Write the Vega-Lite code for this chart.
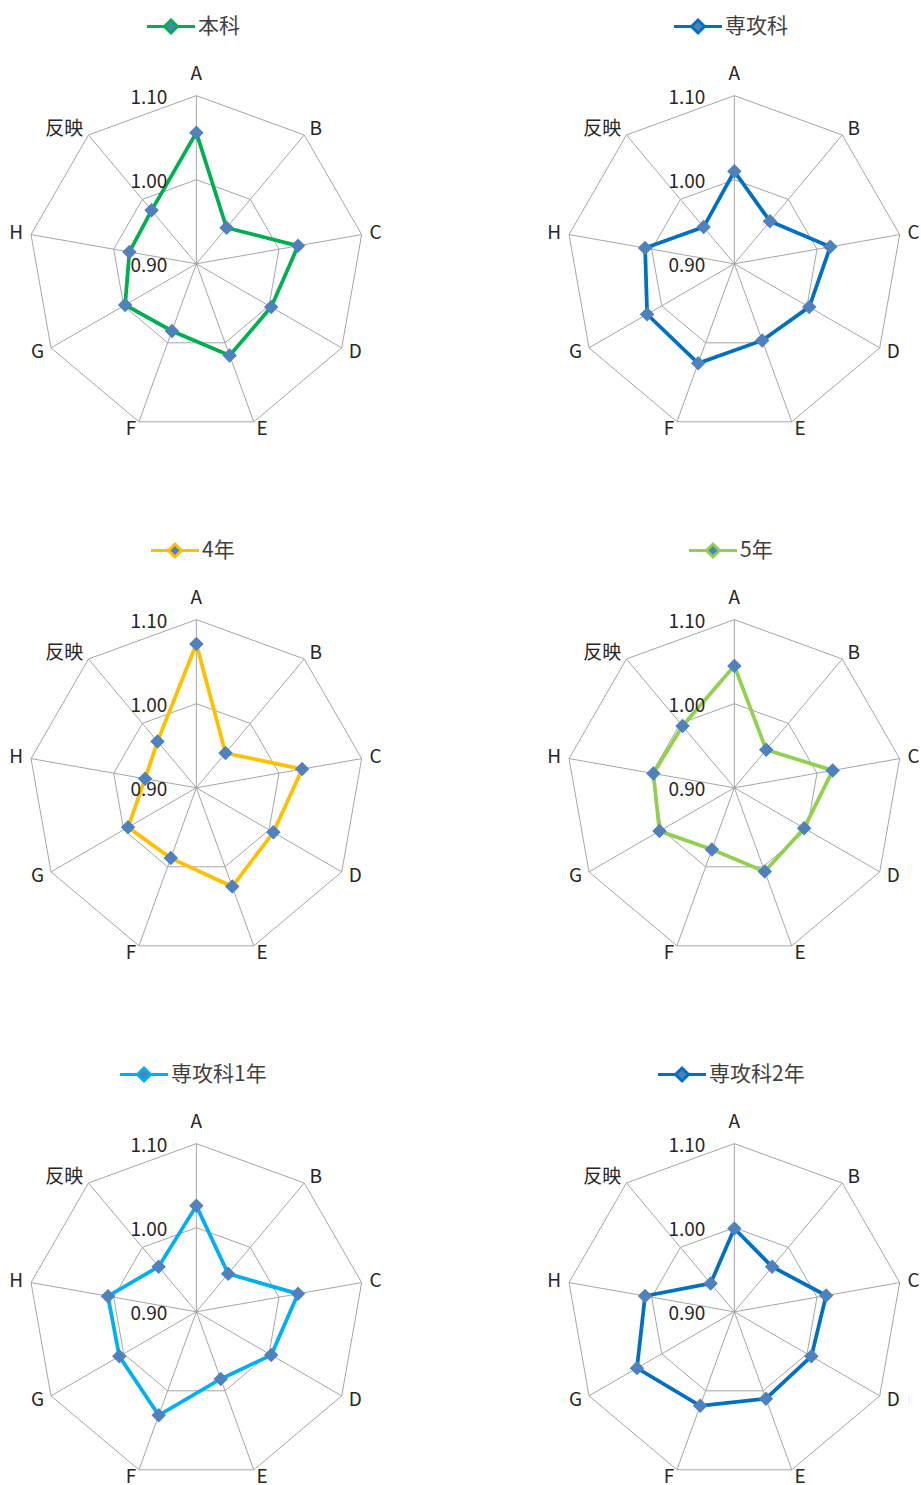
{
  "$schema": "https://vega.github.io/schema/vega-lite/v6.json",
  "padding": {"left": 5, "top": 15, "right": 0, "bottom": 0},
  "background": "white",
  "datasets": {
    "scores": [
      {"panel": "本科", "item": "A", "idx": 0, "value": 1.056},
      {"panel": "本科", "item": "B", "idx": 1, "value": 0.956},
      {"panel": "本科", "item": "C", "idx": 2, "value": 1.023},
      {"panel": "本科", "item": "D", "idx": 3, "value": 1.003},
      {"panel": "本科", "item": "E", "idx": 4, "value": 1.016},
      {"panel": "本科", "item": "F", "idx": 5, "value": 0.985},
      {"panel": "本科", "item": "G", "idx": 6, "value": 0.998},
      {"panel": "本科", "item": "H", "idx": 7, "value": 0.981},
      {"panel": "本科", "item": "反映", "idx": 8, "value": 0.983},
      {"panel": "専攻科", "item": "A", "idx": 0, "value": 1.010},
      {"panel": "専攻科", "item": "B", "idx": 1, "value": 0.966},
      {"panel": "専攻科", "item": "C", "idx": 2, "value": 1.016},
      {"panel": "専攻科", "item": "D", "idx": 3, "value": 1.003},
      {"panel": "専攻科", "item": "E", "idx": 4, "value": 0.997},
      {"panel": "専攻科", "item": "F", "idx": 5, "value": 1.026},
      {"panel": "専攻科", "item": "G", "idx": 6, "value": 1.020},
      {"panel": "専攻科", "item": "H", "idx": 7, "value": 1.008},
      {"panel": "専攻科", "item": "反映", "idx": 8, "value": 0.957},
      {"panel": "4年", "item": "A", "idx": 0, "value": 1.071},
      {"panel": "4年", "item": "B", "idx": 1, "value": 0.954},
      {"panel": "4年", "item": "C", "idx": 2, "value": 1.028},
      {"panel": "4年", "item": "D", "idx": 3, "value": 1.006},
      {"panel": "4年", "item": "E", "idx": 4, "value": 1.025},
      {"panel": "4年", "item": "F", "idx": 5, "value": 0.989},
      {"panel": "4年", "item": "G", "idx": 6, "value": 0.994},
      {"panel": "4年", "item": "H", "idx": 7, "value": 0.962},
      {"panel": "4年", "item": "反映", "idx": 8, "value": 0.972},
      {"panel": "5年", "item": "A", "idx": 0, "value": 1.045},
      {"panel": "5年", "item": "B", "idx": 1, "value": 0.959},
      {"panel": "5年", "item": "C", "idx": 2, "value": 1.019},
      {"panel": "5年", "item": "D", "idx": 3, "value": 0.996},
      {"panel": "5年", "item": "E", "idx": 4, "value": 1.006},
      {"panel": "5年", "item": "F", "idx": 5, "value": 0.978},
      {"panel": "5年", "item": "G", "idx": 6, "value": 1.003},
      {"panel": "5年", "item": "H", "idx": 7, "value": 0.998},
      {"panel": "5年", "item": "反映", "idx": 8, "value": 0.996},
      {"panel": "専攻科1年", "item": "A", "idx": 0, "value": 1.026},
      {"panel": "専攻科1年", "item": "B", "idx": 1, "value": 0.959},
      {"panel": "専攻科1年", "item": "C", "idx": 2, "value": 1.023},
      {"panel": "専攻科1年", "item": "D", "idx": 3, "value": 1.003},
      {"panel": "専攻科1年", "item": "E", "idx": 4, "value": 0.985},
      {"panel": "専攻科1年", "item": "F", "idx": 5, "value": 1.031},
      {"panel": "専攻科1年", "item": "G", "idx": 6, "value": 1.006},
      {"panel": "専攻科1年", "item": "H", "idx": 7, "value": 1.007},
      {"panel": "専攻科1年", "item": "反映", "idx": 8, "value": 0.970},
      {"panel": "専攻科2年", "item": "A", "idx": 0, "value": 0.999},
      {"panel": "専攻科2年", "item": "B", "idx": 1, "value": 0.970},
      {"panel": "専攻科2年", "item": "C", "idx": 2, "value": 1.011},
      {"panel": "専攻科2年", "item": "D", "idx": 3, "value": 1.006},
      {"panel": "専攻科2年", "item": "E", "idx": 4, "value": 1.010},
      {"panel": "専攻科2年", "item": "F", "idx": 5, "value": 1.019},
      {"panel": "専攻科2年", "item": "G", "idx": 6, "value": 1.034},
      {"panel": "専攻科2年", "item": "H", "idx": 7, "value": 1.008},
      {"panel": "専攻科2年", "item": "反映", "idx": 8, "value": 0.944}
    ],
    "items": [
      {"item": "A", "idx": 0}, {"item": "B", "idx": 1}, {"item": "C", "idx": 2},
      {"item": "D", "idx": 3}, {"item": "E", "idx": 4}, {"item": "F", "idx": 5},
      {"item": "G", "idx": 6}, {"item": "H", "idx": 7}, {"item": "反映", "idx": 8}
    ],
    "rings": [
      {"level": 1.0, "idx": 0}, {"level": 1.0, "idx": 1}, {"level": 1.0, "idx": 2},
      {"level": 1.0, "idx": 3}, {"level": 1.0, "idx": 4}, {"level": 1.0, "idx": 5},
      {"level": 1.0, "idx": 6}, {"level": 1.0, "idx": 7}, {"level": 1.0, "idx": 8},
      {"level": 1.1, "idx": 0}, {"level": 1.1, "idx": 1}, {"level": 1.1, "idx": 2},
      {"level": 1.1, "idx": 3}, {"level": 1.1, "idx": 4}, {"level": 1.1, "idx": 5},
      {"level": 1.1, "idx": 6}, {"level": 1.1, "idx": 7}, {"level": 1.1, "idx": 8}
    ],
    "ringLabels": [
      {"level": 1.1, "label": "1.10"},
      {"level": 1.0, "label": "1.00"},
      {"level": 0.9, "label": "0.90"}
    ]
  },
  "columns": 2,
  "spacing": {"row": 99, "column": 161},
  "resolve": {"scale": {"stroke": "independent"}, "legend": {"stroke": "independent"}},
  "concat": [
    {
      "width": 376, "height": 375,
      "layer": [
        {"data": {"name": "rings"},
         "transform": [{"calculate": "2*PI*datum.idx/9", "as": "t"}, {"calculate": "(datum.level-0.9)/0.2", "as": "r"}, {"calculate": "datum.r*sin(datum.t)", "as": "x"}, {"calculate": "datum.r*cos(datum.t)", "as": "y"}],
         "mark": {"type": "line", "interpolate": "linear-closed", "color": "#A6A6A6", "strokeWidth": 1},
         "encoding": {"x": {"field": "x", "type": "quantitative", "scale": {"domain": [-1.14, 1.1], "nice": false, "zero": false}, "axis": null}, "y": {"field": "y", "type": "quantitative", "scale": {"domain": [-1.03, 1.2], "nice": false, "zero": false}, "axis": null}, "detail": {"field": "level", "type": "nominal"}, "order": {"field": "idx", "type": "quantitative"}}},
        {"data": {"name": "items"},
         "transform": [{"calculate": "2*PI*datum.idx/9", "as": "t"}, {"calculate": "sin(datum.t)", "as": "x"}, {"calculate": "cos(datum.t)", "as": "y"}, {"calculate": "0", "as": "z"}],
         "mark": {"type": "rule", "color": "#A6A6A6", "strokeWidth": 1},
         "encoding": {"x": {"field": "x", "type": "quantitative"}, "y": {"field": "y", "type": "quantitative"}, "x2": {"field": "z"}, "y2": {"field": "z"}}},
        {"data": {"name": "scores"},
         "transform": [{"filter": "datum.panel === '本科'"}, {"calculate": "2*PI*datum.idx/9", "as": "t"}, {"calculate": "(datum.value-0.9)/0.2", "as": "r"}, {"calculate": "datum.r*sin(datum.t)", "as": "x"}, {"calculate": "datum.r*cos(datum.t)", "as": "y"}],
         "layer": [
           {"mark": {"type": "line", "interpolate": "linear-closed", "strokeWidth": 3.75},
            "encoding": {"x": {"field": "x", "type": "quantitative"}, "y": {"field": "y", "type": "quantitative"}, "order": {"field": "idx", "type": "quantitative"},
              "stroke": {"field": "panel", "type": "nominal", "scale": {"domain": ["本科"], "range": ["#00B050"]},
                "legend": {"title": null, "orient": "top", "offset": 23, "symbolType": "M-1.15,0L0.6,0M1.9,0L3.65,0M1.25,-0.65L1.9,0L1.25,0.65L0.6,0Z", "symbolSize": 400, "symbolStrokeWidth": 3, "symbolFillColor": "#4F81BD", "symbolOpacity": 1, "labelFont": "Noto Sans CJK JP", "labelFontSize": 21, "labelColor": "#404040", "labelOffset": 28, "encode": {"symbols": {"update": {"fill": {"value": "#4F81BD"}, "strokeWidth": {"value": 3}}}}}}}},
           {"mark": {"type": "point", "shape": "diamond", "filled": true, "size": 210, "color": "#4F81BD", "opacity": 1},
            "encoding": {"x": {"field": "x", "type": "quantitative"}, "y": {"field": "y", "type": "quantitative"}}}
         ]},
        {"data": {"name": "items"},
         "transform": [{"calculate": "2*PI*datum.idx/9", "as": "t"}, {"calculate": "datum.idx == 0 ? 1.131 : 1.048", "as": "rl"}, {"calculate": "datum.rl*sin(datum.t)", "as": "x"}, {"calculate": "datum.rl*cos(datum.t)", "as": "y"}],
         "layer": [
           {"transform": [{"filter": "datum.idx == 0"}], "mark": {"type": "text", "align": "center", "baseline": "middle", "font": "Noto Sans CJK JP", "fontSize": 19, "color": "#262626"}, "encoding": {"x": {"field": "x", "type": "quantitative"}, "y": {"field": "y", "type": "quantitative"}, "text": {"field": "item"}}},
           {"transform": [{"filter": "datum.idx >= 1 && datum.idx <= 4"}], "mark": {"type": "text", "align": "left", "baseline": "middle", "font": "Noto Sans CJK JP", "fontSize": 19, "color": "#262626"}, "encoding": {"x": {"field": "x", "type": "quantitative"}, "y": {"field": "y", "type": "quantitative"}, "text": {"field": "item"}}},
           {"transform": [{"filter": "datum.idx >= 5"}], "mark": {"type": "text", "align": "right", "baseline": "middle", "font": "Noto Sans CJK JP", "fontSize": 19, "color": "#262626"}, "encoding": {"x": {"field": "x", "type": "quantitative"}, "y": {"field": "y", "type": "quantitative"}, "text": {"field": "item"}}}
         ]},
        {"data": {"name": "ringLabels"},
         "transform": [{"calculate": "(datum.level-0.9)/0.2", "as": "y"}, {"calculate": "0", "as": "x"}],
         "mark": {"type": "text", "align": "right", "baseline": "middle", "dx": -29, "dy": 2, "font": "Noto Sans CJK JP", "fontSize": 19, "color": "#262626"},
         "encoding": {"x": {"field": "x", "type": "quantitative"}, "y": {"field": "y", "type": "quantitative"}, "text": {"field": "label"}}}
      ]
    },
    {
      "width": 376, "height": 375,
      "layer": [
        {"data": {"name": "rings"},
         "transform": [{"calculate": "2*PI*datum.idx/9", "as": "t"}, {"calculate": "(datum.level-0.9)/0.2", "as": "r"}, {"calculate": "datum.r*sin(datum.t)", "as": "x"}, {"calculate": "datum.r*cos(datum.t)", "as": "y"}],
         "mark": {"type": "line", "interpolate": "linear-closed", "color": "#A6A6A6", "strokeWidth": 1},
         "encoding": {"x": {"field": "x", "type": "quantitative", "scale": {"domain": [-1.14, 1.1], "nice": false, "zero": false}, "axis": null}, "y": {"field": "y", "type": "quantitative", "scale": {"domain": [-1.03, 1.2], "nice": false, "zero": false}, "axis": null}, "detail": {"field": "level", "type": "nominal"}, "order": {"field": "idx", "type": "quantitative"}}},
        {"data": {"name": "items"},
         "transform": [{"calculate": "2*PI*datum.idx/9", "as": "t"}, {"calculate": "sin(datum.t)", "as": "x"}, {"calculate": "cos(datum.t)", "as": "y"}, {"calculate": "0", "as": "z"}],
         "mark": {"type": "rule", "color": "#A6A6A6", "strokeWidth": 1},
         "encoding": {"x": {"field": "x", "type": "quantitative"}, "y": {"field": "y", "type": "quantitative"}, "x2": {"field": "z"}, "y2": {"field": "z"}}},
        {"data": {"name": "scores"},
         "transform": [{"filter": "datum.panel === '専攻科'"}, {"calculate": "2*PI*datum.idx/9", "as": "t"}, {"calculate": "(datum.value-0.9)/0.2", "as": "r"}, {"calculate": "datum.r*sin(datum.t)", "as": "x"}, {"calculate": "datum.r*cos(datum.t)", "as": "y"}],
         "layer": [
           {"mark": {"type": "line", "interpolate": "linear-closed", "strokeWidth": 3.75},
            "encoding": {"x": {"field": "x", "type": "quantitative"}, "y": {"field": "y", "type": "quantitative"}, "order": {"field": "idx", "type": "quantitative"},
              "stroke": {"field": "panel", "type": "nominal", "scale": {"domain": ["専攻科"], "range": ["#0070C0"]},
                "legend": {"title": null, "orient": "top", "offset": 23, "symbolType": "M-1.15,0L0.6,0M1.9,0L3.65,0M1.25,-0.65L1.9,0L1.25,0.65L0.6,0Z", "symbolSize": 400, "symbolStrokeWidth": 3, "symbolFillColor": "#4F81BD", "symbolOpacity": 1, "labelFont": "Noto Sans CJK JP", "labelFontSize": 21, "labelColor": "#404040", "labelOffset": 28, "encode": {"symbols": {"update": {"fill": {"value": "#4F81BD"}, "strokeWidth": {"value": 3}}}}}}}},
           {"mark": {"type": "point", "shape": "diamond", "filled": true, "size": 210, "color": "#4F81BD", "opacity": 1},
            "encoding": {"x": {"field": "x", "type": "quantitative"}, "y": {"field": "y", "type": "quantitative"}}}
         ]},
        {"data": {"name": "items"},
         "transform": [{"calculate": "2*PI*datum.idx/9", "as": "t"}, {"calculate": "datum.idx == 0 ? 1.131 : 1.048", "as": "rl"}, {"calculate": "datum.rl*sin(datum.t)", "as": "x"}, {"calculate": "datum.rl*cos(datum.t)", "as": "y"}],
         "layer": [
           {"transform": [{"filter": "datum.idx == 0"}], "mark": {"type": "text", "align": "center", "baseline": "middle", "font": "Noto Sans CJK JP", "fontSize": 19, "color": "#262626"}, "encoding": {"x": {"field": "x", "type": "quantitative"}, "y": {"field": "y", "type": "quantitative"}, "text": {"field": "item"}}},
           {"transform": [{"filter": "datum.idx >= 1 && datum.idx <= 4"}], "mark": {"type": "text", "align": "left", "baseline": "middle", "font": "Noto Sans CJK JP", "fontSize": 19, "color": "#262626"}, "encoding": {"x": {"field": "x", "type": "quantitative"}, "y": {"field": "y", "type": "quantitative"}, "text": {"field": "item"}}},
           {"transform": [{"filter": "datum.idx >= 5"}], "mark": {"type": "text", "align": "right", "baseline": "middle", "font": "Noto Sans CJK JP", "fontSize": 19, "color": "#262626"}, "encoding": {"x": {"field": "x", "type": "quantitative"}, "y": {"field": "y", "type": "quantitative"}, "text": {"field": "item"}}}
         ]},
        {"data": {"name": "ringLabels"},
         "transform": [{"calculate": "(datum.level-0.9)/0.2", "as": "y"}, {"calculate": "0", "as": "x"}],
         "mark": {"type": "text", "align": "right", "baseline": "middle", "dx": -29, "dy": 2, "font": "Noto Sans CJK JP", "fontSize": 19, "color": "#262626"},
         "encoding": {"x": {"field": "x", "type": "quantitative"}, "y": {"field": "y", "type": "quantitative"}, "text": {"field": "label"}}}
      ]
    },
    {
      "width": 376, "height": 375,
      "layer": [
        {"data": {"name": "rings"},
         "transform": [{"calculate": "2*PI*datum.idx/9", "as": "t"}, {"calculate": "(datum.level-0.9)/0.2", "as": "r"}, {"calculate": "datum.r*sin(datum.t)", "as": "x"}, {"calculate": "datum.r*cos(datum.t)", "as": "y"}],
         "mark": {"type": "line", "interpolate": "linear-closed", "color": "#A6A6A6", "strokeWidth": 1},
         "encoding": {"x": {"field": "x", "type": "quantitative", "scale": {"domain": [-1.14, 1.1], "nice": false, "zero": false}, "axis": null}, "y": {"field": "y", "type": "quantitative", "scale": {"domain": [-1.03, 1.2], "nice": false, "zero": false}, "axis": null}, "detail": {"field": "level", "type": "nominal"}, "order": {"field": "idx", "type": "quantitative"}}},
        {"data": {"name": "items"},
         "transform": [{"calculate": "2*PI*datum.idx/9", "as": "t"}, {"calculate": "sin(datum.t)", "as": "x"}, {"calculate": "cos(datum.t)", "as": "y"}, {"calculate": "0", "as": "z"}],
         "mark": {"type": "rule", "color": "#A6A6A6", "strokeWidth": 1},
         "encoding": {"x": {"field": "x", "type": "quantitative"}, "y": {"field": "y", "type": "quantitative"}, "x2": {"field": "z"}, "y2": {"field": "z"}}},
        {"data": {"name": "scores"},
         "transform": [{"filter": "datum.panel === '4年'"}, {"calculate": "2*PI*datum.idx/9", "as": "t"}, {"calculate": "(datum.value-0.9)/0.2", "as": "r"}, {"calculate": "datum.r*sin(datum.t)", "as": "x"}, {"calculate": "datum.r*cos(datum.t)", "as": "y"}],
         "layer": [
           {"mark": {"type": "line", "interpolate": "linear-closed", "strokeWidth": 3.75},
            "encoding": {"x": {"field": "x", "type": "quantitative"}, "y": {"field": "y", "type": "quantitative"}, "order": {"field": "idx", "type": "quantitative"},
              "stroke": {"field": "panel", "type": "nominal", "scale": {"domain": ["4年"], "range": ["#FFC000"]},
                "legend": {"title": null, "orient": "top", "offset": 23, "symbolType": "M-1.15,0L0.6,0M1.9,0L3.65,0M1.25,-0.65L1.9,0L1.25,0.65L0.6,0Z", "symbolSize": 400, "symbolStrokeWidth": 3, "symbolFillColor": "#4F81BD", "symbolOpacity": 1, "labelFont": "Noto Sans CJK JP", "labelFontSize": 21, "labelColor": "#404040", "labelOffset": 28, "encode": {"symbols": {"update": {"fill": {"value": "#4F81BD"}, "strokeWidth": {"value": 3}}}}}}}},
           {"mark": {"type": "point", "shape": "diamond", "filled": true, "size": 210, "color": "#4F81BD", "opacity": 1},
            "encoding": {"x": {"field": "x", "type": "quantitative"}, "y": {"field": "y", "type": "quantitative"}}}
         ]},
        {"data": {"name": "items"},
         "transform": [{"calculate": "2*PI*datum.idx/9", "as": "t"}, {"calculate": "datum.idx == 0 ? 1.131 : 1.048", "as": "rl"}, {"calculate": "datum.rl*sin(datum.t)", "as": "x"}, {"calculate": "datum.rl*cos(datum.t)", "as": "y"}],
         "layer": [
           {"transform": [{"filter": "datum.idx == 0"}], "mark": {"type": "text", "align": "center", "baseline": "middle", "font": "Noto Sans CJK JP", "fontSize": 19, "color": "#262626"}, "encoding": {"x": {"field": "x", "type": "quantitative"}, "y": {"field": "y", "type": "quantitative"}, "text": {"field": "item"}}},
           {"transform": [{"filter": "datum.idx >= 1 && datum.idx <= 4"}], "mark": {"type": "text", "align": "left", "baseline": "middle", "font": "Noto Sans CJK JP", "fontSize": 19, "color": "#262626"}, "encoding": {"x": {"field": "x", "type": "quantitative"}, "y": {"field": "y", "type": "quantitative"}, "text": {"field": "item"}}},
           {"transform": [{"filter": "datum.idx >= 5"}], "mark": {"type": "text", "align": "right", "baseline": "middle", "font": "Noto Sans CJK JP", "fontSize": 19, "color": "#262626"}, "encoding": {"x": {"field": "x", "type": "quantitative"}, "y": {"field": "y", "type": "quantitative"}, "text": {"field": "item"}}}
         ]},
        {"data": {"name": "ringLabels"},
         "transform": [{"calculate": "(datum.level-0.9)/0.2", "as": "y"}, {"calculate": "0", "as": "x"}],
         "mark": {"type": "text", "align": "right", "baseline": "middle", "dx": -29, "dy": 2, "font": "Noto Sans CJK JP", "fontSize": 19, "color": "#262626"},
         "encoding": {"x": {"field": "x", "type": "quantitative"}, "y": {"field": "y", "type": "quantitative"}, "text": {"field": "label"}}}
      ]
    },
    {
      "width": 376, "height": 375,
      "layer": [
        {"data": {"name": "rings"},
         "transform": [{"calculate": "2*PI*datum.idx/9", "as": "t"}, {"calculate": "(datum.level-0.9)/0.2", "as": "r"}, {"calculate": "datum.r*sin(datum.t)", "as": "x"}, {"calculate": "datum.r*cos(datum.t)", "as": "y"}],
         "mark": {"type": "line", "interpolate": "linear-closed", "color": "#A6A6A6", "strokeWidth": 1},
         "encoding": {"x": {"field": "x", "type": "quantitative", "scale": {"domain": [-1.14, 1.1], "nice": false, "zero": false}, "axis": null}, "y": {"field": "y", "type": "quantitative", "scale": {"domain": [-1.03, 1.2], "nice": false, "zero": false}, "axis": null}, "detail": {"field": "level", "type": "nominal"}, "order": {"field": "idx", "type": "quantitative"}}},
        {"data": {"name": "items"},
         "transform": [{"calculate": "2*PI*datum.idx/9", "as": "t"}, {"calculate": "sin(datum.t)", "as": "x"}, {"calculate": "cos(datum.t)", "as": "y"}, {"calculate": "0", "as": "z"}],
         "mark": {"type": "rule", "color": "#A6A6A6", "strokeWidth": 1},
         "encoding": {"x": {"field": "x", "type": "quantitative"}, "y": {"field": "y", "type": "quantitative"}, "x2": {"field": "z"}, "y2": {"field": "z"}}},
        {"data": {"name": "scores"},
         "transform": [{"filter": "datum.panel === '5年'"}, {"calculate": "2*PI*datum.idx/9", "as": "t"}, {"calculate": "(datum.value-0.9)/0.2", "as": "r"}, {"calculate": "datum.r*sin(datum.t)", "as": "x"}, {"calculate": "datum.r*cos(datum.t)", "as": "y"}],
         "layer": [
           {"mark": {"type": "line", "interpolate": "linear-closed", "strokeWidth": 3.75},
            "encoding": {"x": {"field": "x", "type": "quantitative"}, "y": {"field": "y", "type": "quantitative"}, "order": {"field": "idx", "type": "quantitative"},
              "stroke": {"field": "panel", "type": "nominal", "scale": {"domain": ["5年"], "range": ["#92D050"]},
                "legend": {"title": null, "orient": "top", "offset": 23, "symbolType": "M-1.15,0L0.6,0M1.9,0L3.65,0M1.25,-0.65L1.9,0L1.25,0.65L0.6,0Z", "symbolSize": 400, "symbolStrokeWidth": 3, "symbolFillColor": "#4F81BD", "symbolOpacity": 1, "labelFont": "Noto Sans CJK JP", "labelFontSize": 21, "labelColor": "#404040", "labelOffset": 28, "encode": {"symbols": {"update": {"fill": {"value": "#4F81BD"}, "strokeWidth": {"value": 3}}}}}}}},
           {"mark": {"type": "point", "shape": "diamond", "filled": true, "size": 210, "color": "#4F81BD", "opacity": 1},
            "encoding": {"x": {"field": "x", "type": "quantitative"}, "y": {"field": "y", "type": "quantitative"}}}
         ]},
        {"data": {"name": "items"},
         "transform": [{"calculate": "2*PI*datum.idx/9", "as": "t"}, {"calculate": "datum.idx == 0 ? 1.131 : 1.048", "as": "rl"}, {"calculate": "datum.rl*sin(datum.t)", "as": "x"}, {"calculate": "datum.rl*cos(datum.t)", "as": "y"}],
         "layer": [
           {"transform": [{"filter": "datum.idx == 0"}], "mark": {"type": "text", "align": "center", "baseline": "middle", "font": "Noto Sans CJK JP", "fontSize": 19, "color": "#262626"}, "encoding": {"x": {"field": "x", "type": "quantitative"}, "y": {"field": "y", "type": "quantitative"}, "text": {"field": "item"}}},
           {"transform": [{"filter": "datum.idx >= 1 && datum.idx <= 4"}], "mark": {"type": "text", "align": "left", "baseline": "middle", "font": "Noto Sans CJK JP", "fontSize": 19, "color": "#262626"}, "encoding": {"x": {"field": "x", "type": "quantitative"}, "y": {"field": "y", "type": "quantitative"}, "text": {"field": "item"}}},
           {"transform": [{"filter": "datum.idx >= 5"}], "mark": {"type": "text", "align": "right", "baseline": "middle", "font": "Noto Sans CJK JP", "fontSize": 19, "color": "#262626"}, "encoding": {"x": {"field": "x", "type": "quantitative"}, "y": {"field": "y", "type": "quantitative"}, "text": {"field": "item"}}}
         ]},
        {"data": {"name": "ringLabels"},
         "transform": [{"calculate": "(datum.level-0.9)/0.2", "as": "y"}, {"calculate": "0", "as": "x"}],
         "mark": {"type": "text", "align": "right", "baseline": "middle", "dx": -29, "dy": 2, "font": "Noto Sans CJK JP", "fontSize": 19, "color": "#262626"},
         "encoding": {"x": {"field": "x", "type": "quantitative"}, "y": {"field": "y", "type": "quantitative"}, "text": {"field": "label"}}}
      ]
    },
    {
      "width": 376, "height": 375,
      "layer": [
        {"data": {"name": "rings"},
         "transform": [{"calculate": "2*PI*datum.idx/9", "as": "t"}, {"calculate": "(datum.level-0.9)/0.2", "as": "r"}, {"calculate": "datum.r*sin(datum.t)", "as": "x"}, {"calculate": "datum.r*cos(datum.t)", "as": "y"}],
         "mark": {"type": "line", "interpolate": "linear-closed", "color": "#A6A6A6", "strokeWidth": 1},
         "encoding": {"x": {"field": "x", "type": "quantitative", "scale": {"domain": [-1.14, 1.1], "nice": false, "zero": false}, "axis": null}, "y": {"field": "y", "type": "quantitative", "scale": {"domain": [-1.03, 1.2], "nice": false, "zero": false}, "axis": null}, "detail": {"field": "level", "type": "nominal"}, "order": {"field": "idx", "type": "quantitative"}}},
        {"data": {"name": "items"},
         "transform": [{"calculate": "2*PI*datum.idx/9", "as": "t"}, {"calculate": "sin(datum.t)", "as": "x"}, {"calculate": "cos(datum.t)", "as": "y"}, {"calculate": "0", "as": "z"}],
         "mark": {"type": "rule", "color": "#A6A6A6", "strokeWidth": 1},
         "encoding": {"x": {"field": "x", "type": "quantitative"}, "y": {"field": "y", "type": "quantitative"}, "x2": {"field": "z"}, "y2": {"field": "z"}}},
        {"data": {"name": "scores"},
         "transform": [{"filter": "datum.panel === '専攻科1年'"}, {"calculate": "2*PI*datum.idx/9", "as": "t"}, {"calculate": "(datum.value-0.9)/0.2", "as": "r"}, {"calculate": "datum.r*sin(datum.t)", "as": "x"}, {"calculate": "datum.r*cos(datum.t)", "as": "y"}],
         "layer": [
           {"mark": {"type": "line", "interpolate": "linear-closed", "strokeWidth": 3.75},
            "encoding": {"x": {"field": "x", "type": "quantitative"}, "y": {"field": "y", "type": "quantitative"}, "order": {"field": "idx", "type": "quantitative"},
              "stroke": {"field": "panel", "type": "nominal", "scale": {"domain": ["専攻科1年"], "range": ["#00B0F0"]},
                "legend": {"title": null, "orient": "top", "offset": 23, "symbolType": "M-1.15,0L0.6,0M1.9,0L3.65,0M1.25,-0.65L1.9,0L1.25,0.65L0.6,0Z", "symbolSize": 400, "symbolStrokeWidth": 3, "symbolFillColor": "#4F81BD", "symbolOpacity": 1, "labelFont": "Noto Sans CJK JP", "labelFontSize": 21, "labelColor": "#404040", "labelOffset": 28, "encode": {"symbols": {"update": {"fill": {"value": "#4F81BD"}, "strokeWidth": {"value": 3}}}}}}}},
           {"mark": {"type": "point", "shape": "diamond", "filled": true, "size": 210, "color": "#4F81BD", "opacity": 1},
            "encoding": {"x": {"field": "x", "type": "quantitative"}, "y": {"field": "y", "type": "quantitative"}}}
         ]},
        {"data": {"name": "items"},
         "transform": [{"calculate": "2*PI*datum.idx/9", "as": "t"}, {"calculate": "datum.idx == 0 ? 1.131 : 1.048", "as": "rl"}, {"calculate": "datum.rl*sin(datum.t)", "as": "x"}, {"calculate": "datum.rl*cos(datum.t)", "as": "y"}],
         "layer": [
           {"transform": [{"filter": "datum.idx == 0"}], "mark": {"type": "text", "align": "center", "baseline": "middle", "font": "Noto Sans CJK JP", "fontSize": 19, "color": "#262626"}, "encoding": {"x": {"field": "x", "type": "quantitative"}, "y": {"field": "y", "type": "quantitative"}, "text": {"field": "item"}}},
           {"transform": [{"filter": "datum.idx >= 1 && datum.idx <= 4"}], "mark": {"type": "text", "align": "left", "baseline": "middle", "font": "Noto Sans CJK JP", "fontSize": 19, "color": "#262626"}, "encoding": {"x": {"field": "x", "type": "quantitative"}, "y": {"field": "y", "type": "quantitative"}, "text": {"field": "item"}}},
           {"transform": [{"filter": "datum.idx >= 5"}], "mark": {"type": "text", "align": "right", "baseline": "middle", "font": "Noto Sans CJK JP", "fontSize": 19, "color": "#262626"}, "encoding": {"x": {"field": "x", "type": "quantitative"}, "y": {"field": "y", "type": "quantitative"}, "text": {"field": "item"}}}
         ]},
        {"data": {"name": "ringLabels"},
         "transform": [{"calculate": "(datum.level-0.9)/0.2", "as": "y"}, {"calculate": "0", "as": "x"}],
         "mark": {"type": "text", "align": "right", "baseline": "middle", "dx": -29, "dy": 2, "font": "Noto Sans CJK JP", "fontSize": 19, "color": "#262626"},
         "encoding": {"x": {"field": "x", "type": "quantitative"}, "y": {"field": "y", "type": "quantitative"}, "text": {"field": "label"}}}
      ]
    },
    {
      "width": 376, "height": 375,
      "layer": [
        {"data": {"name": "rings"},
         "transform": [{"calculate": "2*PI*datum.idx/9", "as": "t"}, {"calculate": "(datum.level-0.9)/0.2", "as": "r"}, {"calculate": "datum.r*sin(datum.t)", "as": "x"}, {"calculate": "datum.r*cos(datum.t)", "as": "y"}],
         "mark": {"type": "line", "interpolate": "linear-closed", "color": "#A6A6A6", "strokeWidth": 1},
         "encoding": {"x": {"field": "x", "type": "quantitative", "scale": {"domain": [-1.14, 1.1], "nice": false, "zero": false}, "axis": null}, "y": {"field": "y", "type": "quantitative", "scale": {"domain": [-1.03, 1.2], "nice": false, "zero": false}, "axis": null}, "detail": {"field": "level", "type": "nominal"}, "order": {"field": "idx", "type": "quantitative"}}},
        {"data": {"name": "items"},
         "transform": [{"calculate": "2*PI*datum.idx/9", "as": "t"}, {"calculate": "sin(datum.t)", "as": "x"}, {"calculate": "cos(datum.t)", "as": "y"}, {"calculate": "0", "as": "z"}],
         "mark": {"type": "rule", "color": "#A6A6A6", "strokeWidth": 1},
         "encoding": {"x": {"field": "x", "type": "quantitative"}, "y": {"field": "y", "type": "quantitative"}, "x2": {"field": "z"}, "y2": {"field": "z"}}},
        {"data": {"name": "scores"},
         "transform": [{"filter": "datum.panel === '専攻科2年'"}, {"calculate": "2*PI*datum.idx/9", "as": "t"}, {"calculate": "(datum.value-0.9)/0.2", "as": "r"}, {"calculate": "datum.r*sin(datum.t)", "as": "x"}, {"calculate": "datum.r*cos(datum.t)", "as": "y"}],
         "layer": [
           {"mark": {"type": "line", "interpolate": "linear-closed", "strokeWidth": 3.75},
            "encoding": {"x": {"field": "x", "type": "quantitative"}, "y": {"field": "y", "type": "quantitative"}, "order": {"field": "idx", "type": "quantitative"},
              "stroke": {"field": "panel", "type": "nominal", "scale": {"domain": ["専攻科2年"], "range": ["#0070C0"]},
                "legend": {"title": null, "orient": "top", "offset": 23, "symbolType": "M-1.15,0L0.6,0M1.9,0L3.65,0M1.25,-0.65L1.9,0L1.25,0.65L0.6,0Z", "symbolSize": 400, "symbolStrokeWidth": 3, "symbolFillColor": "#4F81BD", "symbolOpacity": 1, "labelFont": "Noto Sans CJK JP", "labelFontSize": 21, "labelColor": "#404040", "labelOffset": 28, "encode": {"symbols": {"update": {"fill": {"value": "#4F81BD"}, "strokeWidth": {"value": 3}}}}}}}},
           {"mark": {"type": "point", "shape": "diamond", "filled": true, "size": 210, "color": "#4F81BD", "opacity": 1},
            "encoding": {"x": {"field": "x", "type": "quantitative"}, "y": {"field": "y", "type": "quantitative"}}}
         ]},
        {"data": {"name": "items"},
         "transform": [{"calculate": "2*PI*datum.idx/9", "as": "t"}, {"calculate": "datum.idx == 0 ? 1.131 : 1.048", "as": "rl"}, {"calculate": "datum.rl*sin(datum.t)", "as": "x"}, {"calculate": "datum.rl*cos(datum.t)", "as": "y"}],
         "layer": [
           {"transform": [{"filter": "datum.idx == 0"}], "mark": {"type": "text", "align": "center", "baseline": "middle", "font": "Noto Sans CJK JP", "fontSize": 19, "color": "#262626"}, "encoding": {"x": {"field": "x", "type": "quantitative"}, "y": {"field": "y", "type": "quantitative"}, "text": {"field": "item"}}},
           {"transform": [{"filter": "datum.idx >= 1 && datum.idx <= 4"}], "mark": {"type": "text", "align": "left", "baseline": "middle", "font": "Noto Sans CJK JP", "fontSize": 19, "color": "#262626"}, "encoding": {"x": {"field": "x", "type": "quantitative"}, "y": {"field": "y", "type": "quantitative"}, "text": {"field": "item"}}},
           {"transform": [{"filter": "datum.idx >= 5"}], "mark": {"type": "text", "align": "right", "baseline": "middle", "font": "Noto Sans CJK JP", "fontSize": 19, "color": "#262626"}, "encoding": {"x": {"field": "x", "type": "quantitative"}, "y": {"field": "y", "type": "quantitative"}, "text": {"field": "item"}}}
         ]},
        {"data": {"name": "ringLabels"},
         "transform": [{"calculate": "(datum.level-0.9)/0.2", "as": "y"}, {"calculate": "0", "as": "x"}],
         "mark": {"type": "text", "align": "right", "baseline": "middle", "dx": -29, "dy": 2, "font": "Noto Sans CJK JP", "fontSize": 19, "color": "#262626"},
         "encoding": {"x": {"field": "x", "type": "quantitative"}, "y": {"field": "y", "type": "quantitative"}, "text": {"field": "label"}}}
      ]
    }
  ],
  "config": {
    "view": {"stroke": null},
    "font": "Noto Sans CJK JP",
    "legend": {"layout": {"top": {"anchor": "middle"}}}
  }
}
